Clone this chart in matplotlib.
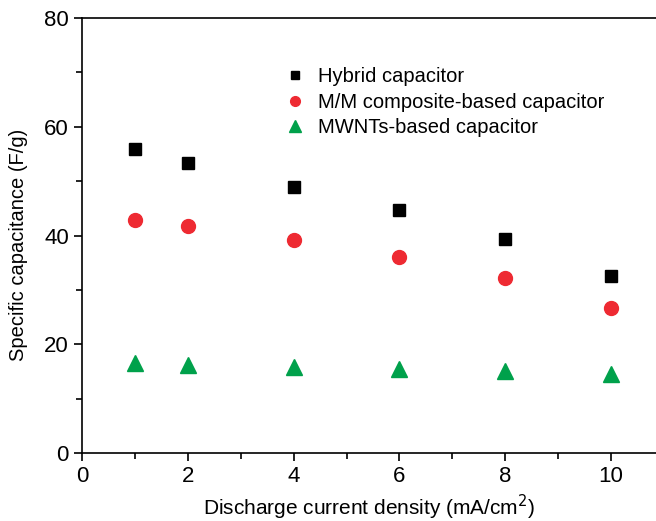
import matplotlib
matplotlib.use("Agg")
import matplotlib.pyplot as plt
from matplotlib.ticker import MultipleLocator

plt.rcParams['font.family'] = ['Liberation Sans', 'DejaVu Sans']

# Data
current = [1, 2, 4, 6, 8, 10]
hybrid = [55.9, 53.4, 49.0, 44.7, 39.3, 32.5]
mm_composite = [42.9, 41.8, 39.2, 36.1, 32.1, 26.7]
mwnts = [16.5, 16.2, 15.9, 15.5, 15.0, 14.6]

labels = ["Hybrid capacitor", "M/M composite-based capacitor", "MWNTs-based capacitor"]

fig = plt.figure(figsize=(6.56, 5.21), dpi=100)
ax = fig.add_axes([82/656, 68/521, 1 - 82/656, 435/521])

ax.plot(current, hybrid, 's', color='black', markersize=9, label=labels[0])
ax.plot(current, mm_composite, 'o', color='#ee2a32', markersize=10, label=labels[1])
ax.plot(current, mwnts, '^', color='#00a14b', markersize=12, label=labels[2])

ax.set_xlim(0, 10.85)
ax.set_ylim(0, 80)
ax.xaxis.set_major_locator(MultipleLocator(2))
ax.xaxis.set_minor_locator(MultipleLocator(1))
ax.yaxis.set_major_locator(MultipleLocator(20))
ax.yaxis.set_minor_locator(MultipleLocator(10))

ax.spines['right'].set_visible(False)
for s in ['left', 'bottom', 'top']:
    ax.spines[s].set_linewidth(1.2)

ax.tick_params(which='major', direction='out', length=6, width=1.2, labelsize=16)
ax.tick_params(which='minor', direction='out', length=4, width=1.2)
ax.tick_params(top=False, which='both')

ax.set_xlabel("Discharge current density (mA/cm$^2$)", fontsize=15, labelpad=4)
ax.set_ylabel("Specific capacitance (F/g)", fontsize=14.5)
ax.yaxis.set_label_coords(-0.094, 0.478)

ax.legend(loc='upper left', bbox_to_anchor=(0.318, 0.928), frameon=False, fontsize=14.5,
          handletextpad=0.55, labelspacing=0.32, markerscale=0.7, handlelength=1.2)

fig.savefig("out.png", dpi=100)
